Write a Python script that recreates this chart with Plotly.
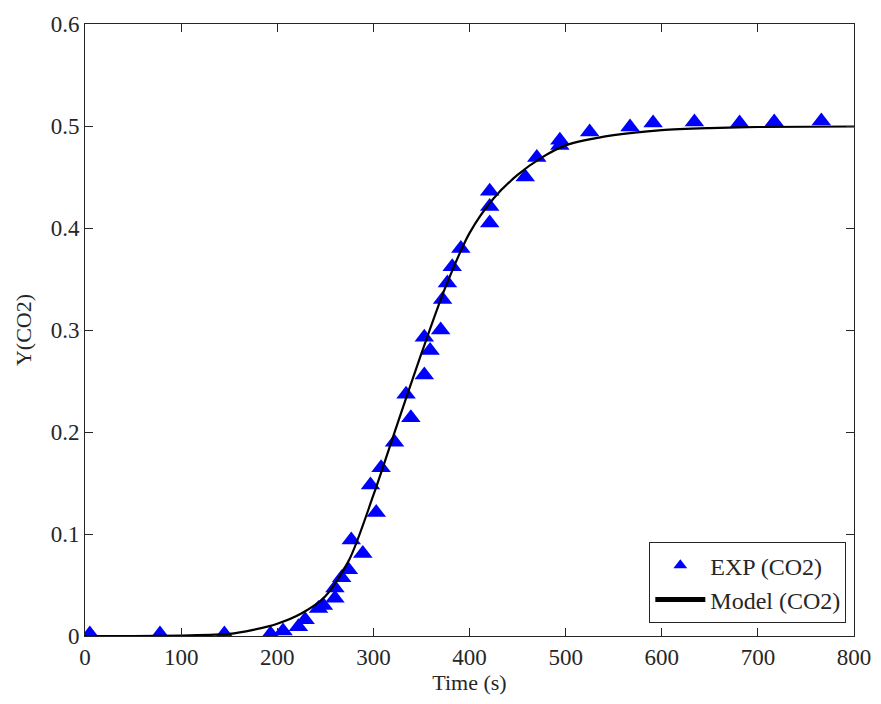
import plotly.graph_objects as go

exp_time = [5, 78, 145, 193, 206, 222, 229, 243, 248, 260, 260, 267, 274, 277, 289,
            297, 303, 308, 322, 334, 339, 353, 353, 359, 370, 372, 377, 382, 391,
            421, 421, 421, 458, 470, 494, 494, 525, 567, 591, 634, 681, 717, 766]
exp_y = [0.002, 0.002, 0.002, 0.002, 0.005, 0.009, 0.016, 0.027, 0.030, 0.037, 0.047,
         0.057, 0.065, 0.094, 0.081, 0.148, 0.121, 0.165, 0.190, 0.237, 0.214, 0.256,
         0.293, 0.280, 0.300, 0.330, 0.346, 0.362, 0.380, 0.405, 0.421, 0.436, 0.450,
         0.469, 0.486, 0.481, 0.494, 0.499, 0.503, 0.504, 0.503, 0.504, 0.505]

# Model curve
model_time = [0, 50, 100, 150, 175, 200, 225, 250, 275, 300, 325, 350, 375, 400,
              425, 450, 475, 500, 550, 600, 650, 700, 800]
model_y = [0.0, 0.0, 0.0005, 0.002, 0.006, 0.012, 0.022, 0.039, 0.075, 0.138, 0.208,
           0.277, 0.342, 0.395, 0.429, 0.452, 0.469, 0.481, 0.491, 0.496, 0.498,
           0.499, 0.4995]

x_ticks = [0, 100, 200, 300, 400, 500, 600, 700, 800]
y_ticks = [0, 0.1, 0.2, 0.3, 0.4, 0.5, 0.6]
y_tick_labels = ["0", "0.1", "0.2", "0.3", "0.4", "0.5", "0.6"]

FONT = "Liberation Serif"
AX = "#262626"

fig = go.Figure()
fig.add_trace(go.Scatter(
    x=exp_time, y=exp_y, mode="markers", name="EXP (CO2)",
    marker=dict(symbol="triangle-up", size=17, color="#0000FF", line=dict(width=0)),
))
fig.add_trace(go.Scatter(
    x=model_time, y=model_y, mode="lines", name="Model (CO2)",
    line=dict(color="black", width=2.2, shape="spline", smoothing=0.8),
))

axis_common = dict(
    showline=True, linecolor=AX, linewidth=1, mirror="allticks",
    ticks="inside", ticklen=8, tickcolor=AX, tickwidth=1,
    showgrid=False, zeroline=False, automargin=False,
    ticklabeloverflow="allow",
    tickfont=dict(family=FONT, size=23, color=AX),
)

fig.update_xaxes(range=[0, 800], tickvals=x_ticks, ticktext=[str(v) for v in x_ticks],
                 title=dict(text="Time (s)", font=dict(family=FONT, size=22, color=AX), standoff=6),
                 **axis_common)
fig.update_yaxes(range=[0, 0.6], tickvals=y_ticks, ticktext=y_tick_labels,
                 title=dict(text="Y(CO2)", font=dict(family=FONT, size=22, color=AX), standoff=12),
                 **axis_common)

fig.update_layout(
    width=865, height=688,
    margin=dict(l=77, r=19, t=16, b=60, autoexpand=False),
    paper_bgcolor="white", plot_bgcolor="white",
    showlegend=True,
    legend=dict(x=0.99, y=0.021, xanchor="right", yanchor="bottom",
                bgcolor="white", bordercolor=AX, borderwidth=1,
                font=dict(family=FONT, size=24, color=AX),
                tracegroupgap=0, itemsizing="constant", itemwidth=50),
)

fig.write_html("out.html")
